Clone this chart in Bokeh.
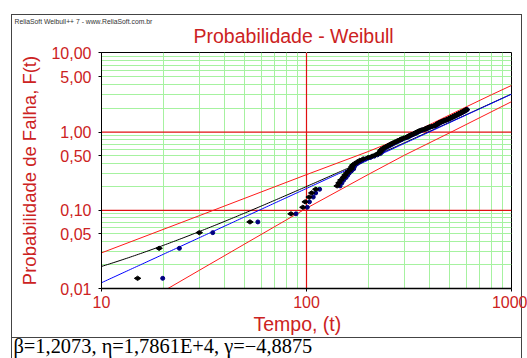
import numpy as np
from bokeh.plotting import figure
from bokeh.models import Range1d, FixedTicker, Grid, Span, Title, LogAxis
from bokeh.embed import file_html
from bokeh.resources import INLINE

# 3-parameter Weibull fit
beta = 1.2073
eta = 1.7861e4
gamma = -4.8875

# failure times and their median-rank unreliability, F(t) in %
fail_time = [15.0, 19.1, 30.0, 53.0, 84.0, 96.0, 98.5, 103, 106, 111,
             141, 144, 147, 151, 154, 157, 161, 165, 166, 168,
             172, 177, 182, 189, 200, 209, 217, 224, 227, 229,
             231, 234, 238, 243, 248, 253, 258, 263, 269, 275,
             280, 286, 290, 298, 306, 311, 316, 321, 327, 333,
             338, 343, 348, 353, 359, 366, 377, 382, 387, 393,
             399, 409, 420, 424, 428, 432, 436, 440, 444, 449,
             455, 461, 467, 474, 480, 486, 492, 497, 502, 507,
             512, 517, 522, 527, 532, 537, 542, 546, 551, 556,
             561, 565, 570, 574, 578, 583, 587, 591, 595, 599, 603]
fail_prob = [0.0135, 0.0327, 0.0519, 0.0712, 0.0904, 0.1096, 0.1288, 0.1481, 0.1673, 0.1865,
             0.2058, 0.2250, 0.2442, 0.2634, 0.2827, 0.3019, 0.3211, 0.3404, 0.3596, 0.3788,
             0.3980, 0.4173, 0.4365, 0.4557, 0.4750, 0.4942, 0.5134, 0.5326, 0.5519, 0.5711,
             0.5903, 0.6096, 0.6288, 0.6480, 0.6672, 0.6865, 0.7057, 0.7249, 0.7442, 0.7634,
             0.7826, 0.8018, 0.8211, 0.8403, 0.8595, 0.8788, 0.8980, 0.9172, 0.9364, 0.9557,
             0.9749, 0.9941, 1.0134, 1.0326, 1.0518, 1.0710, 1.0903, 1.1095, 1.1287, 1.1480,
             1.1672, 1.1864, 1.2056, 1.2249, 1.2441, 1.2633, 1.2826, 1.3018, 1.3210, 1.3402,
             1.3595, 1.3787, 1.3979, 1.4172, 1.4364, 1.4556, 1.4748, 1.4941, 1.5133, 1.5325,
             1.5518, 1.5710, 1.5902, 1.6094, 1.6287, 1.6479, 1.6671, 1.6864, 1.7056, 1.7248,
             1.7440, 1.7633, 1.7825, 1.8017, 1.8210, 1.8402, 1.8594, 1.8786, 1.8979, 1.9171, 1.9363]

# confidence bounds, F(t) in %
upper_time = [10, 30, 100, 200, 300, 400, 600, 800, 1000]
upper_prob = [0.0286, 0.0856, 0.287, 0.566, 0.871, 1.253, 2.092, 2.99, 3.91]
lower_time = [20, 30, 50, 100, 200, 300, 500, 1000]
lower_prob = [0.00922, 0.0171, 0.0372, 0.1066, 0.288, 0.507, 0.983, 2.44]

# axis ticks
y_ticks = [0.01, 0.05, 0.10, 0.50, 1.0, 5.0, 10.0]
y_tick_labels = ["0,01", "0,05", "0,10", "0,50", "1,00", "5,00", "10,00"]
y_minor = [0.02, 0.03, 0.04, 0.05, 0.06, 0.07, 0.08, 0.09,
           0.2, 0.3, 0.4, 0.5, 0.6, 0.7, 0.8, 0.9,
           2, 3, 4, 5, 6, 7, 8, 9]
y_red = [0.1, 1.0]
x_ticks = [10, 100, 1000]
x_tick_labels = ["10", "100", "1000"]
x_minor = [20, 30, 40, 50, 60, 70, 80, 90, 200, 300, 400, 500, 600, 700, 800, 900]
x_red = [100]

RED = "#cc2222"
REF_RED = "#e01010"
GREEN = "#a6f2a0"
FONT = "Liberation Sans"
FRAME = "#444444"


def wb(pct):
    """Weibull probability-paper ordinate ln(-ln(1-F)) for F given in %."""
    q = np.asarray(pct, dtype=float) / 100.0
    return np.log(-np.log(1.0 - q))


# thin outer frame and the separator above the parameter line, drawn as page background
frame_css = ", ".join([
    f"linear-gradient({FRAME}, {FRAME}) 11px 14px / 1px 344px no-repeat",
    f"linear-gradient({FRAME}, {FRAME}) 11px 14px / 511px 1px no-repeat",
    f"linear-gradient({FRAME}, {FRAME}) 521px 14px / 1px 344px no-repeat",
    f"linear-gradient({FRAME}, {FRAME}) 11px 337px / 511px 1px no-repeat",
])

p = figure(width=527, height=358, x_axis_type="log", title=None,
           x_range=Range1d(10, 1000),
           y_range=Range1d(float(wb(0.01)), float(wb(10.0))),
           output_backend="svg", toolbar_location=None,
           min_border_left=101, min_border_right=16,
           min_border_top=52, min_border_bottom=66,
           styles={"background": frame_css})
p.background_fill_color = "white"
p.border_fill_color = None
p.outline_line_color = "black"
p.xgrid.visible = False
p.ygrid.visible = False

# probability-paper grid
p.add_layout(Grid(dimension=0, ticker=FixedTicker(ticks=x_minor), grid_line_color=GREEN))
p.add_layout(Grid(dimension=1, ticker=FixedTicker(ticks=[float(v) for v in wb(y_minor)]),
                  grid_line_color=GREEN))
for xv in x_red:
    p.add_layout(Span(location=xv, dimension="height", line_color=REF_RED,
                      line_width=1.2, level="underlay"))
for yv in wb(y_red):
    p.add_layout(Span(location=float(yv), dimension="width", line_color=REF_RED,
                      line_width=1.2, level="underlay"))

# axes
yt = [float(v) for v in wb(y_ticks)]
p.yaxis.ticker = FixedTicker(ticks=yt)
p.yaxis.major_label_overrides = {t: lab for t, lab in zip(yt, y_tick_labels)}
p.xaxis.ticker = FixedTicker(ticks=x_ticks)
p.xaxis.major_label_overrides = {t: lab for t, lab in zip(x_ticks, x_tick_labels)}
for ax in (p.xaxis, p.yaxis):
    ax.axis_line_color = "black"
    ax.major_tick_line_color = "black"
    ax.minor_tick_line_color = None
    ax.major_tick_in = 0
    ax.major_tick_out = 3
    ax.major_label_text_color = RED
    ax.major_label_text_font = FONT
    ax.major_label_text_font_size = "16px"
p.xaxis.axis_line_width = 1.5
p.xaxis.major_label_standoff = 4
p.yaxis.major_label_standoff = 7
p.yaxis.axis_label = "Probabilidade de Falha, F(t)"
p.yaxis.axis_label_text_color = RED
p.yaxis.axis_label_text_font = FONT
p.yaxis.axis_label_text_font_style = "normal"
p.yaxis.axis_label_text_font_size = "18.5px"
p.yaxis.axis_label_standoff = 8

# blank top axis (one unlabeled white tick): keeps a gap between the frame and the title
p.add_layout(LogAxis(ticker=FixedTicker(ticks=[100]), axis_line_color=None,
                     major_tick_line_color="white", minor_tick_line_color=None,
                     major_tick_in=0, major_tick_out=4, minor_tick_in=0,
                     minor_tick_out=0, major_label_standoff=0,
                     major_label_overrides={100: ""},
                     major_label_text_font_size="1px"), "above")

# titles and captions around the frame
p.add_layout(Title(text="Probabilidade - Weibull", align="left", offset=92, standoff=0,
                   vertical_align="top", text_font=FONT, text_font_size="19.5px",
                   text_color=RED, text_font_style="normal"), "above")
p.add_layout(Title(text="ReliaSoft Weibull++ 7 - www.ReliaSoft.com.br", align="left",
                   offset=-87, standoff=0, text_font=FONT, text_font_size="6.8px",
                   text_color="#333333", text_font_style="normal"), "above")
p.add_layout(Title(text="Tempo, (t)", align="left", offset=152, standoff=0,
                   text_font=FONT, text_font_size="19.5px", text_color=RED,
                   text_font_style="normal"), "below")
p.add_layout(Title(text="\u03b2=1,2073, \u03b7=1,7861E+4, \u03b3=\u22124,8875", align="left",
                   offset=-88, standoff=0, vertical_align="top",
                   text_font="Liberation Serif", text_font_size="20.4px",
                   text_color="black", text_font_style="normal"), "below")

# fitted model: straight line in (t - gamma), curve in t
t_grid = np.logspace(1, 3, 200)
p.line(upper_time, wb(upper_prob), line_color="#ff1a1a", line_width=1)
p.line(lower_time, wb(lower_prob), line_color="#ff1a1a", line_width=1)
p.line(t_grid, beta * np.log((t_grid - gamma) / eta), line_color="black", line_width=1)
p.line(t_grid, beta * np.log(t_grid / eta), line_color="blue", line_width=1)

# data points: shifted by gamma (blue) and raw times (black)
ft = np.asarray(fail_time, dtype=float)
fy = wb(fail_prob)
p.scatter(ft - gamma, fy, marker="circle", size=4, fill_color="#000080", line_color="#000080")
p.scatter(ft, fy, marker="diamond", angle=np.pi / 2, size=6.5,
          fill_color="black", line_color="black")

open("out.html", "w").write(file_html(p, INLINE))
